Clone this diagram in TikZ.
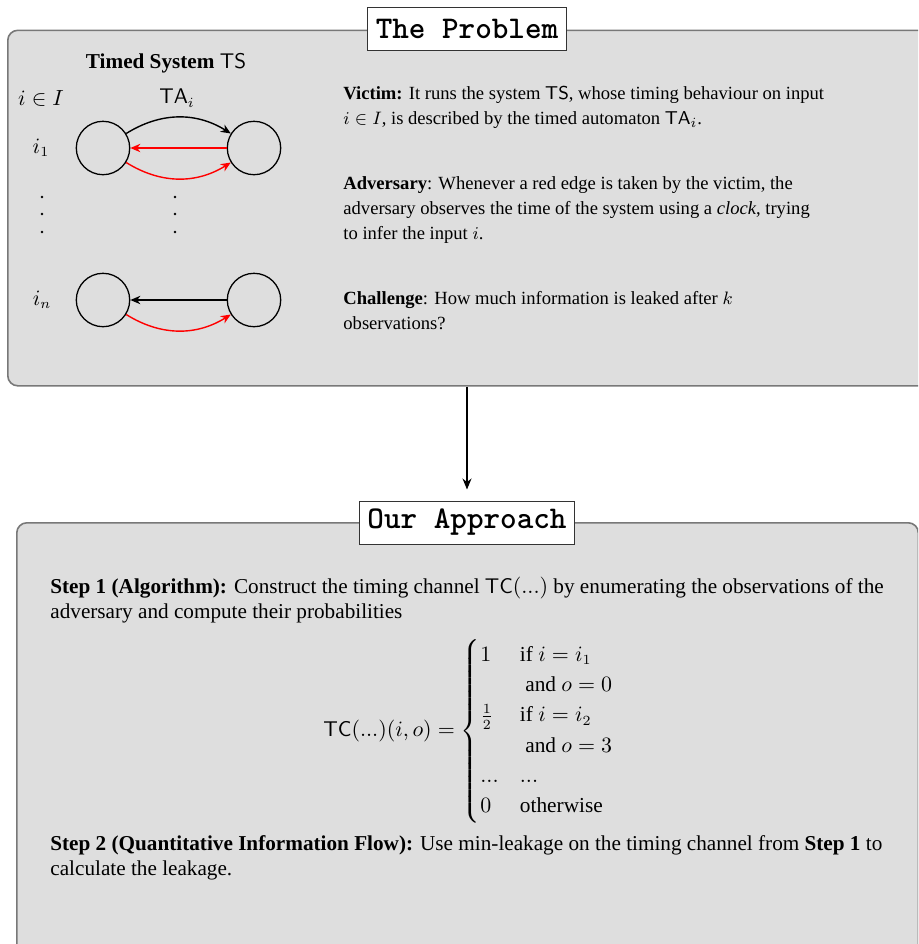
\documentclass[tikz,border=0pt]{standalone}
\usepackage{amsmath}
\usepackage{fontspec}
\setmainfont{Liberation Serif}
\usetikzlibrary{arrows.meta}

\definecolor{panelfill}{HTML}{DEDEDE}
\definecolor{panelline}{HTML}{787878}

\begin{document}
\begin{tikzpicture}[x=0.5pt,y=-0.5pt,
  panel/.style={draw=panelline, line width=0.8pt, fill=panelfill,
    rounded corners=5pt, anchor=north west, inner sep=0pt},
  titlebox/.style={draw=black!80, line width=0.5pt, fill=white,
    font=\fontsize{15.8}{17}\selectfont\ttfamily\bfseries,
    inner xsep=4pt, inner ysep=0pt, minimum height=21.5pt},
  state/.style={circle, draw, line width=0.65pt, minimum size=26.7pt, inner sep=0pt},
  edge/.style={line width=0.7pt, -{Stealth[length=5pt,width=4.2pt,inset=1.6pt]}},
  leak/.style={edge, red},
  lbl/.style={inner sep=0pt},
  ptext/.style={inner sep=0pt, anchor=base west},
  flow/.style={line width=0.6pt, -{Stealth[length=5.5pt,width=4.5pt,inset=1.8pt]}},
]
\useasboundingbox (0,0) rectangle (918,944);
\clip (0,0) rectangle (918,944);

% ---------- upper panel ----------
\node[panel, minimum width=466.5pt, minimum height=177.75pt] (problem) at (7,29.5) {};
\node[titlebox] (ptitle) at (467,28.5) {The Problem};

% timed system sketch
\node[lbl, font=\fontsize{10.6}{12}\selectfont] (tstitle) at (166,63) {\textbf{Timed System} $\mathsf{TS}$};
\node[lbl, font=\fontsize{10.6}{12}\selectfont] (inI) at (41,98) {$i \in I$};
\node[lbl, font=\fontsize{10.6}{12}\selectfont] (tai) at (177,98) {$\mathsf{TA}_i$};
\node[lbl, font=\fontsize{10.6}{12}\selectfont] (ione) at (41,148) {$i_1$};
\node[lbl, font=\fontsize{10.6}{12}\selectfont] (inn) at (42,300) {$i_n$};

\node[state] (a1) at (103,148) {};
\node[state] (b1) at (254,148) {};
\node[state] (a2) at (103,300) {};
\node[state] (b2) at (254,300) {};

\draw[edge] (a1) to[bend left=32] (b1);
\draw[leak] (b1) -- (a1);
\draw[leak] (a1) to[bend right=32] (b1);
\draw[edge] (b2) -- (a2);
\draw[leak] (a2) to[bend right=32] (b2);

% vertical ellipses between the two rows
\foreach \yy in {197,214,232} {
  \fill (42,\yy) circle (1.3);
  \fill (175,\yy) circle (1.3);
}

% problem statement
\node[ptext] (victim) at (343,99) {\parbox[t]{300pt}{\fontsize{9.3}{12.7}\selectfont\raggedright
  \textbf{Victim:} It runs the system $\mathsf{TS}$, whose timing behaviour on input\\
  $i \in I$, is described by the timed automaton $\mathsf{TA}_i$.}};
\node[ptext] (adversary) at (343,189) {\parbox[t]{300pt}{\fontsize{9.3}{12.7}\selectfont\raggedright
  \textbf{Adversary}: Whenever a red edge is taken by the victim, the\\
  adversary observes the time of the system using a \textit{clock}, trying\\
  to infer the input $i$.}};
\node[ptext] (challenge) at (343,304) {\parbox[t]{300pt}{\fontsize{9.3}{12.7}\selectfont\raggedright
  \textbf{Challenge}: How much information is leaked after $k$\\
  observations?}};

% ---------- lower panel ----------
\node[panel, minimum width=450.75pt, minimum height=219pt] (approach) at (16,522) {};
\node[titlebox] (atitle) at (467,522.5) {Our Approach};

\draw[flow, shorten >=5.5pt] (problem.south -| atitle.north) -- (atitle.north);

\node[ptext] (step1) at (50,593) {\parbox[t]{440pt}{\fontsize{10.6}{12.6}\selectfont\raggedright
  \textbf{Step 1 (Algorithm):} Construct the timing channel $\mathsf{TC}(...)$ by enumerating the observations of the\\
  adversary and compute their probabilities}};

\node[lbl, font=\fontsize{10.66}{12.6}\selectfont] (tc) at (469,731) {$\mathsf{TC}(...)(i,o) =
  \begin{cases}
    1 & \text{if } i = i_1\\
      & \text{ and } o = 0\\
    \frac{1}{2} & \text{if } i = i_2\\
      & \text{ and } o = 3\\
    ... & ...\\
    0 & \text{otherwise}
  \end{cases}$};

\node[ptext] (step2) at (50,850) {\parbox[t]{440pt}{\fontsize{10.6}{12.6}\selectfont\raggedright
  \textbf{Step 2 (Quantitative Information Flow):} Use min-leakage on the timing channel from \textbf{Step 1} to\\
  calculate the leakage.}};
\end{tikzpicture}
\end{document}
